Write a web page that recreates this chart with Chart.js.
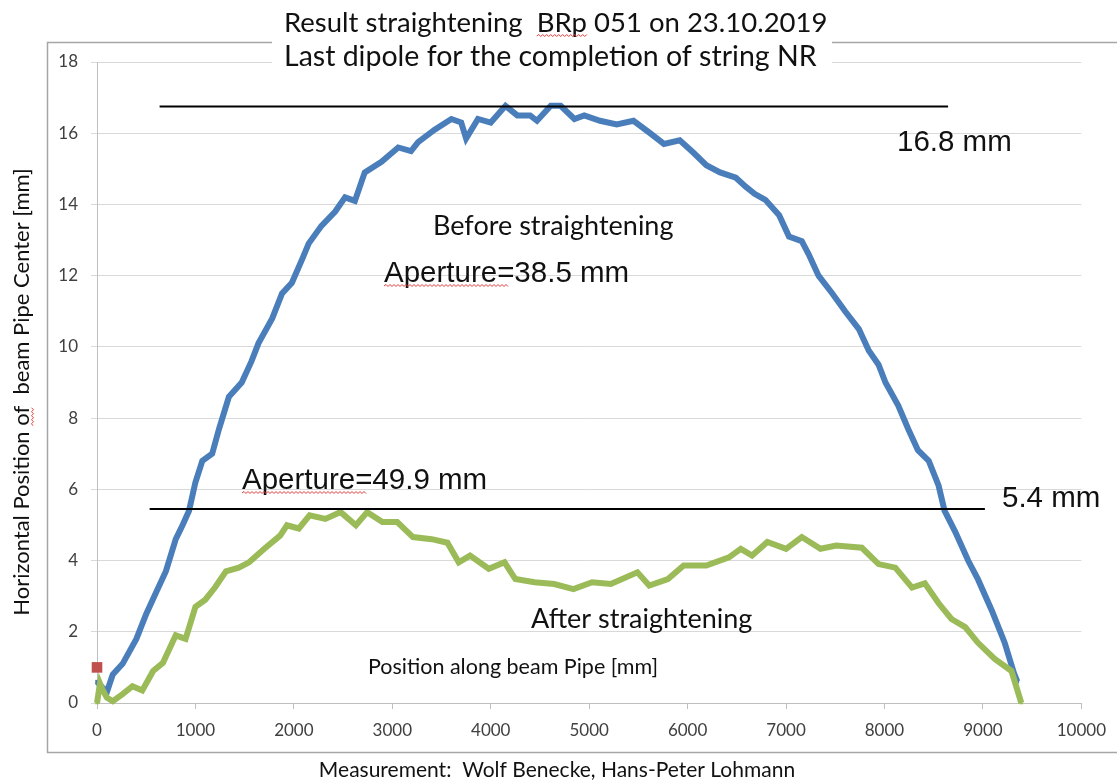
<!DOCTYPE html>
<html>
<head>
<meta charset="utf-8">
<title>Result straightening BRp 051</title>
<script src="https://cdn.jsdelivr.net/npm/chart.js@4.4.1/dist/chart.umd.min.js"></script>
<style>
  body { margin: 0; background: #fff; }
  canvas { display: block; }
</style>
</head>
<body>
<canvas id="chart" width="1117" height="780"></canvas>
<script>
// Values (position in mm, offset in mm)
const beforeX = [0, 50, 100, 160, 260, 400, 500, 600, 700, 800, 870, 935, 1000, 1070, 1170, 1240, 1340, 1470, 1570, 1640,
  1780, 1880, 1980, 2090, 2150, 2280, 2420, 2520, 2620, 2720, 2890, 3060, 3190, 3262, 3430, 3600, 3700, 3750, 3870, 4000,
  4150, 4270, 4400, 4470, 4610, 4710, 4850, 4950, 5110, 5280, 5450, 5620, 5760, 5920, 6060, 6190, 6330, 6490, 6590, 6680,
  6790, 6930, 7030, 7160, 7230, 7330, 7470, 7600, 7740, 7840, 7940, 8010, 8140, 8240, 8340, 8450, 8550, 8610, 8720, 8850,
  8950, 9090, 9220, 9320, 9350];
const beforeY = [0.6, 0.45, 0.3, 0.8, 1.1, 1.8, 2.5, 3.1, 3.7, 4.6, 5.0, 5.4, 6.2, 6.8, 7.0, 7.7, 8.6, 9.0, 9.6, 10.1,
  10.8, 11.5, 11.8, 12.5, 12.9, 13.4, 13.8, 14.2, 14.1, 14.9, 15.2, 15.6, 15.5, 15.75, 16.1, 16.4, 16.3, 15.85, 16.4, 16.3,
  16.77, 16.5, 16.5, 16.35, 16.77, 16.77, 16.4, 16.5, 16.35, 16.25, 16.35, 16.0, 15.7, 15.8, 15.45, 15.1, 14.9, 14.75, 14.5, 14.3,
  14.13, 13.7, 13.1, 12.97, 12.6, 12.0, 11.5, 11.0, 10.5, 9.9, 9.5, 9.0, 8.35, 7.7, 7.1, 6.8, 6.1, 5.4, 4.8, 4.0,
  3.47, 2.6, 1.7, 0.8, 0.6];

const afterX = [0, 30, 60, 100, 160, 260, 360, 460, 570, 670, 800, 900, 1000, 1100, 1200, 1310, 1440, 1545, 1700, 1860,
  1930, 2050, 2160, 2320, 2475, 2630, 2745, 2900, 3050, 3210, 3400, 3560, 3675, 3790, 3980, 4140, 4250, 4445, 4645, 4840,
  5030, 5220, 5490, 5610, 5800, 5960, 6190, 6420, 6540, 6655, 6810, 7000, 7160, 7350, 7510, 7770, 7940, 8110, 8280, 8410,
  8550, 8680, 8820, 8950, 9120, 9290, 9390];
const afterY = [0.0, 0.55, 0.35, 0.15, 0.05, 0.25, 0.47, 0.35, 0.9, 1.13, 1.9, 1.8, 2.7, 2.9, 3.25, 3.7, 3.8, 3.95, 4.33, 4.7,
  4.99, 4.9, 5.27, 5.17, 5.36, 4.99, 5.36, 5.08, 5.08, 4.66, 4.6, 4.5, 3.95, 4.14, 3.77, 3.95, 3.48, 3.39, 3.34, 3.2,
  3.39, 3.34, 3.67, 3.3, 3.48, 3.86, 3.86, 4.09, 4.33, 4.14, 4.52, 4.33, 4.66, 4.33, 4.42, 4.36, 3.9, 3.8, 3.24, 3.36,
  2.8, 2.36, 2.13, 1.69, 1.24, 0.9, 0.0];

// reference marker and the two max-offset lines
const refX = [0];
const refY = [1];
const maxBeforeX = [636, 8646];
const maxBeforeY = [16.75, 16.75];
const maxAfterX = [535, 9020];
const maxAfterY = [5.45, 5.45];

const xTicks = { min: 0, max: 10000, step: 1000 };
const yTicks = { min: 0, max: 18, step: 2 };

const pts = (xs, ys) => xs.map((x, i) => ({ x: x, y: ys[i] }));

const CAL = 'Lato, "Noto Sans", sans-serif';
const ARI = '"Liberation Sans", Arial, sans-serif';

function squiggle(ctx, x1, x2, y) {
    ctx.save();
    ctx.strokeStyle = '#e23b3b';
    ctx.lineWidth = 1;
    ctx.beginPath();
    let up = true;
    ctx.moveTo(x1, y);
    for (let x = x1 + 2; x <= x2; x += 2) {
        ctx.lineTo(x, up ? y - 1.5 : y + 0.5);
        up = !up;
    }
    ctx.stroke();
    ctx.restore();
}

const decor = {
    id: 'decor',
    beforeDraw(chart) {
        const ctx = chart.ctx;
        ctx.save();
        ctx.fillStyle = '#fff';
        ctx.fillRect(0, 0, chart.width, chart.height);
        // outer chart frame
        ctx.strokeStyle = '#a6a6a6';
        ctx.lineWidth = 1.5;
        ctx.strokeRect(47.5, 42.5, 1100, 710);
        ctx.restore();
    },
    afterDraw(chart) {
        const ctx = chart.ctx;
        ctx.save();
        // title box hides frame and top gridline
        ctx.fillStyle = '#fff';
        ctx.fillRect(272, 0, 560, 76);

        ctx.fillStyle = '#111';
        ctx.textBaseline = 'alphabetic';
        ctx.textAlign = 'left';
        ctx.font = '27.5px ' + CAL;
        const t1 = 'Result straightening  BRp 051 on 23.10.2019';
        ctx.fillText(t1, 284, 32);
        // spell-check marks
        const s1 = 284 + ctx.measureText('Result straightening  ').width;
        squiggle(ctx, s1, s1 + ctx.measureText('BRp').width, 36);
        ctx.font = '28.5px ' + CAL;
        ctx.fillText('Last dipole for the completion of string NR', 284, 66);

        ctx.font = '29.5px ' + ARI;
        ctx.fillText('16.8 mm', 897, 151);
        ctx.fillText('5.4 mm', 1002, 507);
        ctx.fillText('Aperture=38.5 mm', 384, 282);
        ctx.fillText('Aperture=49.9 mm', 242, 489);
        const wa = ctx.measureText('Aperture=').width - 6;
        squiggle(ctx, 384, 384 + wa, 286);
        squiggle(ctx, 242, 242 + wa, 493);

        ctx.font = '27px ' + CAL;
        ctx.fillText('Before straightening', 433, 235);
        ctx.fillText('After straightening', 531, 628);

        ctx.font = '21.5px ' + CAL;
        ctx.fillText('Position along beam Pipe [mm]', 368, 674);
        ctx.textAlign = 'center';
        ctx.font = '21px ' + CAL;
        ctx.fillText('Measurement:  Wolf Benecke, Hans-Peter Lohmann', 557, 777);

        // y axis title
        ctx.save();
        ctx.translate(29, 392);
        ctx.rotate(-Math.PI / 2);
        ctx.font = '22px ' + CAL;
        const yt = 'Horizontal Position of  beam Pipe Center [mm]';
        ctx.fillText(yt, 0, 0);
        const yw = ctx.measureText(yt).width;
        const so = -yw / 2 + ctx.measureText('Horizontal Position ').width;
        squiggle(ctx, so, so + ctx.measureText('of').width, 4);
        ctx.restore();

        ctx.restore();
    }
};

new Chart(document.getElementById('chart'), {
    type: 'line',
    data: {
        datasets: [
            { label: 'ref', data: pts(refX, refY), showLine: false, pointStyle: 'rect', pointRadius: 7.5,
              pointBackgroundColor: '#c0504d', pointBorderWidth: 0, clip: false, order: 0 },
            { label: 'max before', data: pts(maxBeforeX, maxBeforeY), borderColor: '#000', borderWidth: 2,
              pointRadius: 0, order: 0 },
            { label: 'max after', data: pts(maxAfterX, maxAfterY), borderColor: '#000', borderWidth: 2,
              pointRadius: 0, order: 0 },
            { label: 'After straightening', data: pts(afterX, afterY), borderColor: '#9bbb59', borderWidth: 6,
              pointRadius: 2.5, pointStyle: 'triangle', pointBackgroundColor: '#9bbb59', pointBorderWidth: 0,
              tension: 0, clip: false, order: 1 },
            { label: 'Before straightening', data: pts(beforeX, beforeY), borderColor: '#4a7ebb', borderWidth: 6,
              pointRadius: 2.5, pointStyle: 'rect', pointBackgroundColor: '#4a7ebb', pointBorderWidth: 0,
              tension: 0, clip: false, order: 2 }
        ]
    },
    options: {
        responsive: false,
        animation: false,
        layout: { padding: { top: 62, right: 30, left: 0, bottom: 0 } },
        plugins: { legend: { display: false }, tooltip: { enabled: false } },
        scales: {
            x: {
                type: 'linear', min: xTicks.min, max: xTicks.max,
                ticks: { stepSize: xTicks.step, padding: 11, color: '#404040', font: { family: CAL, size: 17 },
                         callback: v => String(v) },
                grid: { drawOnChartArea: false, tickLength: 6, color: '#bfbfbf' },
                border: { color: '#bfbfbf' },
                afterFit(s) { s.height = 77; }
            },
            y: {
                min: yTicks.min, max: yTicks.max,
                ticks: { stepSize: yTicks.step, padding: 13, color: '#404040', font: { family: CAL, size: 17 } },
                grid: { color: '#d9d9d9', tickLength: 6 },
                border: { color: '#bfbfbf' },
                afterFit(s) { s.width = 97; }
            }
        }
    },
    plugins: [decor]
});
</script>
</body>
</html>
